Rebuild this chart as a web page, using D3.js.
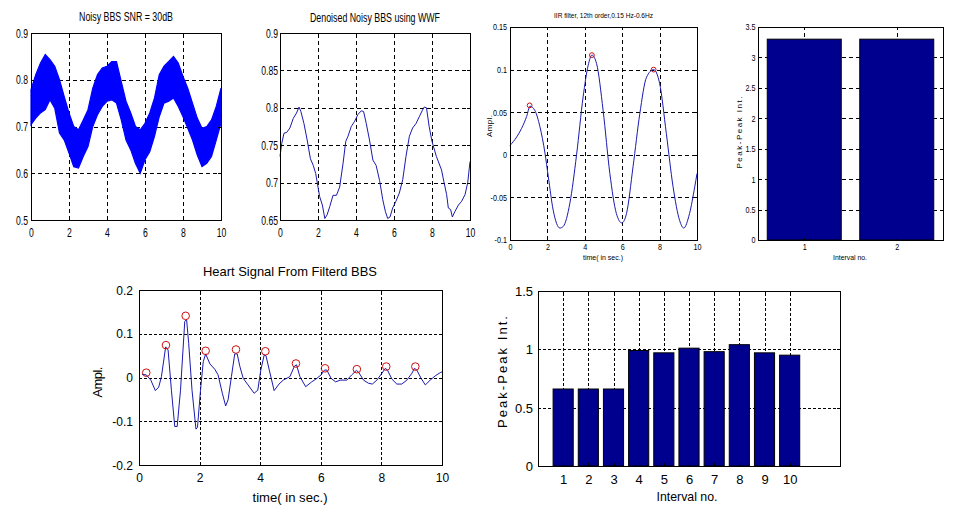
<!DOCTYPE html>
<html><head><meta charset="utf-8">
<script src="https://cdn.jsdelivr.net/npm/d3@7"></script>
<style>
body{margin:0;background:#fff;}
svg{display:block;font-family:"Liberation Sans",Arial,Helvetica,sans-serif;}
</style></head><body>
<svg id="c" width="953" height="515"></svg>
<script>
// ---------------- DATA ----------------
// Panel 1: noisy BBS, envelope of the dense noisy trace
const noisyTime = [0,0.25,0.5,0.75,1,1.25,1.5,1.75,2,2.25,2.5,2.75,3,3.25,3.5,3.75,4,4.25,4.5,4.75,5,5.25,5.5,5.75,6,6.25,6.5,6.75,7,7.25,7.5,7.75,8,8.25,8.5,8.75,9,9.25,9.5,9.75,10];
const noisyUpper = [0.779,0.811,0.836,0.854,0.843,0.829,0.800,0.764,0.729,0.700,0.693,0.714,0.736,0.782,0.811,0.825,0.829,0.839,0.839,0.796,0.754,0.729,0.700,0.693,0.707,0.729,0.761,0.811,0.829,0.839,0.850,0.836,0.807,0.782,0.750,0.718,0.696,0.700,0.714,0.743,0.782];
const noisyLower = [0.704,0.718,0.729,0.736,0.757,0.739,0.686,0.671,0.643,0.614,0.611,0.636,0.657,0.700,0.725,0.743,0.754,0.757,0.750,0.714,0.671,0.650,0.621,0.600,0.629,0.646,0.679,0.721,0.750,0.754,0.761,0.743,0.721,0.696,0.671,0.639,0.614,0.621,0.636,0.671,0.707];

// Panel 2: denoised BBS (WWF)
const denTime = [0,0.09,0.21,0.35,0.52,0.7,0.87,1.0,1.1,1.26,1.43,1.6,1.75,1.88,2.0,2.09,2.23,2.36,2.48,2.62,2.79,2.97,3.14,3.32,3.46,3.58,3.75,3.93,4.1,4.28,4.4,4.54,4.71,4.89,5.06,5.24,5.41,5.55,5.67,5.79,5.93,6.1,6.28,6.46,6.63,6.81,6.98,7.16,7.33,7.5,7.59,7.71,7.85,8.0,8.23,8.5,8.62,8.77,8.86,8.98,9.07,9.2,9.39,9.56,9.74,9.88,10];
const denValue = [0.735,0.752,0.766,0.767,0.773,0.786,0.793,0.801,0.795,0.779,0.757,0.732,0.723,0.712,0.694,0.681,0.670,0.652,0.657,0.668,0.683,0.683,0.694,0.726,0.755,0.762,0.775,0.782,0.791,0.796,0.795,0.779,0.757,0.730,0.723,0.703,0.677,0.661,0.652,0.654,0.666,0.675,0.686,0.704,0.735,0.762,0.773,0.779,0.788,0.797,0.801,0.800,0.775,0.755,0.735,0.717,0.702,0.684,0.666,0.664,0.654,0.661,0.670,0.675,0.684,0.700,0.728];

// Panel 3: IIR filtered signal
const iirTime = [0,0.36,0.62,0.89,1.07,1.33,1.6,1.87,2.05,2.31,2.67,2.85,3.2,3.56,3.91,4.18,4.38,4.63,4.98,5.34,5.69,5.98,6.23,6.58,6.94,7.3,7.68,8.0,8.36,8.72,9.07,9.29,9.6,9.88,10];
const iirValue = [0.011,0.021,0.031,0.045,0.057,0.052,0.033,0.002,-0.026,-0.065,-0.086,-0.084,-0.057,0.0,0.068,0.105,0.117,0.107,0.052,-0.022,-0.069,-0.080,-0.069,-0.014,0.048,0.091,0.100,0.084,0.025,-0.0375,-0.077,-0.086,-0.069,-0.0375,-0.022];
const iirPeakTime = [1.05,4.38,7.68];
const iirPeakValue = [0.058,0.117,0.100];

// Panel 4: breathing peak-peak intervals
const breathInterval = [1,2];
const breathPP = [3.3,3.3];

// Panel 5: heart signal
const heartTime = [0.1,0.24,0.39,0.54,0.65,0.74,0.88,0.96,1.07,1.18,1.26,1.37,1.51,1.57,1.64,1.75,1.88,1.93,2.03,2.12,2.2,2.34,2.5,2.61,2.75,2.86,2.94,3.05,3.16,3.24,3.33,3.44,3.6,3.8,3.92,4.02,4.13,4.19,4.3,4.46,4.62,4.76,4.98,5.13,5.2,5.31,5.5,5.7,5.87,6.01,6.12,6.2,6.34,6.49,6.64,6.86,7.02,7.17,7.24,7.41,7.57,7.7,7.85,8.02,8.13,8.2,8.35,8.51,8.67,8.84,9.01,9.09,9.17,9.31,9.45,9.61,9.78,9.94,10];
const heartValue = [0.007,0.006,-0.006,-0.030,-0.022,0.002,0.070,0.063,-0.029,-0.112,-0.112,-0.029,0.128,0.133,0.078,-0.029,-0.118,-0.114,-0.029,0.036,0.054,0.031,0.019,0.006,-0.036,-0.065,-0.051,0.002,0.054,0.054,0.025,-0.002,-0.017,-0.036,-0.029,0.017,0.051,0.050,0.017,-0.030,-0.015,-0.006,0.002,0.026,0.029,0.002,-0.021,-0.010,-0.002,0.006,0.017,0.017,-0.002,-0.010,-0.006,-0.006,0.006,0.016,0.013,-0.006,-0.013,-0.015,-0.006,0.010,0.021,0.017,-0.004,-0.015,-0.015,-0.006,0.010,0.021,0.017,-0.002,-0.017,-0.006,0.004,0.011,0.013];
const heartPeakTime = [0.24,0.89,1.54,2.2,3.2,4.17,5.18,6.14,7.19,8.16,9.12];
const heartPeakValue = [0.011,0.074,0.141,0.061,0.064,0.060,0.032,0.021,0.019,0.025,0.025];

// Panel 6: heart peak-peak intervals
const heartInterval = [1,2,3,4,5,6,7,8,9,10];
const heartPP = [0.66,0.66,0.66,0.99,0.97,1.01,0.98,1.04,0.97,0.95];

// Tick values / labels
const timeTicks = [0,2,4,6,8,10];
const timeTickLabels = ["0","2","4","6","8","10"];
const p1YTicks = [0.5,0.6,0.7,0.8,0.9];
const p1YLabels = ["0.5","0.6","0.7","0.8","0.9"];
const p2YTicks = [0.65,0.7,0.75,0.8,0.85,0.9];
const p2YLabels = ["0.65","0.7","0.75","0.8","0.85","0.9"];
const p3YTicks = [-0.1,-0.05,0,0.05,0.1,0.15];
const p3YLabels = ["-0.1","-0.05","0","0.05","0.1","0.15"];
const p4XLabels = ["1","2"];
const p4YTicks = [0,0.5,1,1.5,2,2.5,3,3.5];
const p4YLabels = ["0","0.5","1","1.5","2","2.5","3","3.5"];
const p5YTicks = [-0.2,-0.1,0,0.1,0.2];
const p5YLabels = ["-0.2","-0.1","0","0.1","0.2"];
const p6XLabels = ["1","2","3","4","5","6","7","8","9","10"];
const p6YTicks = [0,0.5,1,1.5];
const p6YLabels = ["0","0.5","1","1.5"];

// ---------------- DRAWING ----------------
const svg = d3.select("#c");
const LINE = "#1a1ab0";
const RED = "#cc1010";
const BAR = "#00008f";

function makePanel(c){
  const g = svg.append("g");
  const x = d3.scaleLinear().domain(c.xd).range([c.x0,c.x1]);
  const y = d3.scaleLinear().domain(c.yd).range([c.y1,c.y0]);
  return {g,x,y,c};
}
function grid(p, xt, yt, dash){
  const {g,x,y,c} = p;
  const h = c.y1-c.y0, w = c.x1-c.x0;
  g.append("g").attr("transform",`translate(0,${c.y1})`)
    .call(d3.axisBottom(x).tickValues(xt).tickSize(-h).tickFormat(""))
    .call(a=>{a.select(".domain").remove();a.selectAll("line").attr("stroke","#000").attr("stroke-dasharray",dash).attr("shape-rendering","crispEdges");});
  g.append("g").attr("transform",`translate(${c.x0},0)`)
    .call(d3.axisLeft(y).tickValues(yt).tickSize(-w).tickFormat(""))
    .call(a=>{a.select(".domain").remove();a.selectAll("line").attr("stroke","#000").attr("stroke-dasharray",dash).attr("shape-rendering","crispEdges");});
}
function frame(p, xt, xl, yt, yl, o){
  const {g,x,y,c} = p;
  const L = o.tick || 3;
  const styleAxis = a => {
    a.attr("font-family",null).attr("font-size",null);
    a.select(".domain").remove();
    a.selectAll("line").attr("stroke","#000").attr("shape-rendering","crispEdges");
  };
  const b = g.append("g").attr("transform",`translate(0,${c.y1})`)
    .call(d3.axisBottom(x).tickValues(xt).tickFormat((d,i)=>xl[i]).tickSizeInner(-L).tickSizeOuter(0).tickPadding(o.xpad))
    .call(styleAxis);
  b.selectAll("text").attr("font-size",o.fs).attr("fill","#000").attr("transform",`scale(${o.sx},1)`);
  const l = g.append("g").attr("transform",`translate(${c.x0},0)`)
    .call(d3.axisLeft(y).tickValues(yt).tickFormat((d,i)=>yl[i]).tickSizeInner(-L).tickSizeOuter(0).tickPadding(o.ypad))
    .call(styleAxis);
  l.selectAll("text").attr("font-size",o.fs).attr("fill","#000").attr("x",-o.ypad/o.sx).attr("dy","0.34em").attr("transform",`scale(${o.sx},1)`);
  g.append("g").attr("transform",`translate(0,${c.y0})`)
    .call(d3.axisTop(x).tickValues(xt).tickFormat("").tickSizeInner(-L).tickSizeOuter(0)).call(styleAxis);
  g.append("g").attr("transform",`translate(${c.x1},0)`)
    .call(d3.axisRight(y).tickValues(yt).tickFormat("").tickSizeInner(-L).tickSizeOuter(0)).call(styleAxis);
  g.append("rect").attr("x",c.x0).attr("y",c.y0).attr("width",c.x1-c.x0).attr("height",c.y1-c.y0)
    .attr("fill","none").attr("stroke","#000").attr("shape-rendering","crispEdges");
}
function label(txt, cx, cy, size, width, rotate, spacing){
  const tr = `translate(${cx},${cy})` + (rotate ? " rotate(-90)" : "");
  const t = svg.append("text").attr("transform",tr).attr("font-size",size).attr("fill","#000")
    .attr("x",-width/2).attr("y",0).attr("text-anchor","start")
    .attr("textLength",width).attr("lengthAdjust", spacing ? "spacing" : "spacingAndGlyphs").text(txt);
  return t;
}

// Panel 1
const p1 = makePanel({x0:31,x1:221,y0:33,y1:220,xd:[0,10],yd:[0.5,0.9]});
grid(p1, timeTicks, p1YTicks, "4,3");
p1.g.append("path")
  .datum(noisyTime.map((t,i)=>({t,u:noisyUpper[i],l:noisyLower[i]})))
  .attr("d", d3.area().x(d=>p1.x(d.t)).y0(d=>p1.y(d.l)).y1(d=>p1.y(d.u)))
  .attr("fill","#0000ff").attr("stroke","#0000ff").attr("stroke-width",1.2).attr("stroke-linejoin","miter");
frame(p1, timeTicks, timeTickLabels, p1YTicks, p1YLabels, {fs:12, sx:0.72, xpad:8, ypad:3});
label("Noisy BBS SNR = 30dB", 126, 21, 12.5, 94);

// Panel 2
const p2 = makePanel({x0:280,x1:470,y0:33,y1:220,xd:[0,10],yd:[0.65,0.9]});
grid(p2, timeTicks, p2YTicks, "4,3");
p2.g.append("path")
  .datum(denTime.map((t,i)=>[t,denValue[i]]))
  .attr("d", d3.line().x(d=>p2.x(d[0])).y(d=>p2.y(d[1])))
  .attr("fill","none").attr("stroke",LINE).attr("stroke-width",1);
frame(p2, timeTicks, timeTickLabels, p2YTicks, p2YLabels, {fs:12, sx:0.72, xpad:8, ypad:2});
label("Denoised Noisy BBS using WWF", 375, 22, 12.5, 130);

// Panel 3
const p3 = makePanel({x0:510,x1:697,y0:27,y1:240,xd:[0,10],yd:[-0.1,0.15]});
grid(p3, timeTicks, p3YTicks, "4,3");
p3.g.append("path")
  .datum(iirTime.map((t,i)=>[t,iirValue[i]]))
  .attr("d", d3.line().curve(d3.curveMonotoneX).x(d=>p3.x(d[0])).y(d=>p3.y(d[1])))
  .attr("fill","none").attr("stroke",LINE).attr("stroke-width",1);
p3.g.selectAll("circle").data(iirPeakTime).join("circle")
  .attr("cx",d=>p3.x(d)).attr("cy",(d,i)=>p3.y(iirPeakValue[i])).attr("r",2.4)
  .attr("fill","none").attr("stroke",RED).attr("stroke-width",1);
frame(p3, timeTicks, timeTickLabels, p3YTicks, p3YLabels, {fs:8.5, sx:0.85, xpad:4, ypad:3, tick:2});
label("IIR filter, 12th order,0.15 Hz-0.6Hz", 603.5, 18, 8, 99);
label("Ampl.", 492, 126, 8, 22, true, true);
label("time( in sec.)", 603, 259.5, 7.5, 40);

// Panel 4
const p4 = makePanel({x0:758,x1:943,y0:27,y1:240,xd:[0.5,2.5],yd:[0,3.5]});
grid(p4, breathInterval, p4YTicks, "4,3");
p4.g.selectAll("rect.bar").data(breathPP).join("rect").attr("class","bar")
  .attr("x",(d,i)=>p4.x(breathInterval[i]-0.4)).attr("width",p4.x(1.4)-p4.x(0.6))
  .attr("y",d=>p4.y(d)).attr("height",d=>p4.y(0)-p4.y(d))
  .attr("fill",BAR).attr("stroke","#000").attr("stroke-width",1);
frame(p4, breathInterval, p4XLabels, p4YTicks, p4YLabels, {fs:8.5, sx:0.85, xpad:4, ypad:2.5, tick:2});
label("Peak-Peak Int.", 742, 132.5, 8, 72, true, true);
label("Interval no.", 850, 259.5, 7.5, 34);

// Panel 5
const p5 = makePanel({x0:139,x1:442,y0:290,y1:465,xd:[0,10],yd:[-0.2,0.2]});
grid(p5, timeTicks, p5YTicks, "3,2");
p5.g.append("path")
  .datum(heartTime.map((t,i)=>[t,heartValue[i]]))
  .attr("d", d3.line().x(d=>p5.x(d[0])).y(d=>p5.y(d[1])))
  .attr("fill","none").attr("stroke",LINE).attr("stroke-width",1);
p5.g.selectAll("circle").data(heartPeakTime).join("circle")
  .attr("cx",d=>p5.x(d)).attr("cy",(d,i)=>p5.y(heartPeakValue[i])).attr("r",3.8)
  .attr("fill","none").attr("stroke",RED).attr("stroke-width",1);
frame(p5, timeTicks, timeTickLabels, p5YTicks, p5YLabels, {fs:12, sx:1, xpad:8, ypad:6});
label("Heart Signal From Filterd BBS", 290, 276, 13, 174);
label("time( in sec.)", 290, 502, 13, 75);
label("Ampl.", 102, 382, 13, 31, true, true);

// Panel 6
const p6 = makePanel({x0:538,x1:840,y0:291,y1:466,xd:[0,12],yd:[0,1.5]});
grid(p6, heartInterval, p6YTicks, "3,2");
p6.g.selectAll("rect.bar").data(heartPP).join("rect").attr("class","bar")
  .attr("x",(d,i)=>p6.x(heartInterval[i]-0.4)).attr("width",p6.x(0.8)-p6.x(0))
  .attr("y",d=>p6.y(d)).attr("height",d=>p6.y(0)-p6.y(d))
  .attr("fill",BAR).attr("stroke","#000").attr("stroke-width",1);
frame(p6, heartInterval, p6XLabels, p6YTicks, p6YLabels, {fs:13, sx:1, xpad:9, ypad:5});
label("Interval no.", 687, 501, 13, 61);
label("Peak-Peak Int.", 507, 372, 13, 112, true, true);
</script>
</body></html>
